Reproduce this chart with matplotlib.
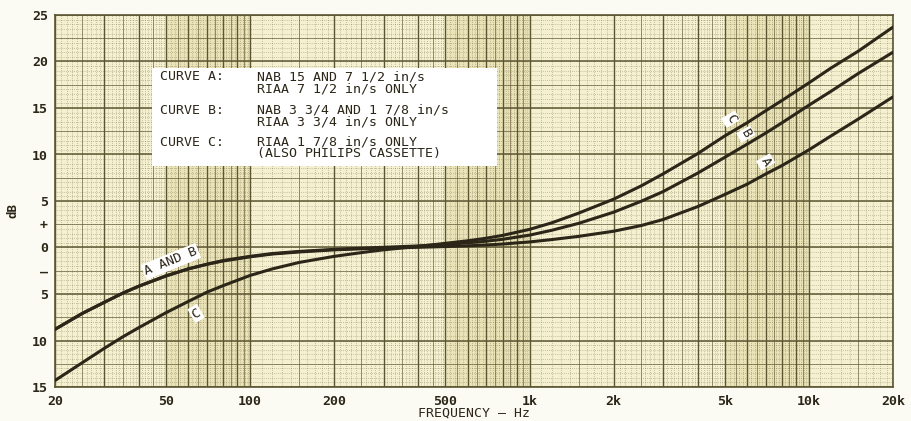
import numpy as np
import matplotlib
matplotlib.use("Agg")
import matplotlib.pyplot as plt
from matplotlib.patches import Rectangle

# values (dB vs Hz)
freq = [20, 25, 30, 35, 40, 50, 60, 70, 80, 100, 120, 150, 200, 250, 300, 400, 500, 600, 700, 800,
        1000, 1200, 1500, 2000, 2500, 3000, 4000, 5000, 6000, 7000, 8000, 10000, 12000, 15000, 20000]
curve_a = [-8.8, -7.1, -5.9, -4.9, -4.15, -3.05, -2.3, -1.8, -1.45, -1.0, -0.7, -0.48, -0.25, -0.14, -0.06, 0.02, 0.1, 0.18, 0.27, 0.37,
           0.6, 0.85, 1.2, 1.75, 2.35, 3.0, 4.4, 5.7, 6.8, 7.9, 8.8, 10.5, 12.0, 13.8, 16.2]
curve_b = [-8.8, -7.1, -5.9, -4.9, -4.15, -3.05, -2.3, -1.8, -1.4, -0.95, -0.65, -0.42, -0.2, -0.08, 0.02, 0.17, 0.33, 0.5, 0.68, 0.88,
           1.33, 1.85, 2.6, 3.8, 4.95, 6.0, 8.0, 9.7, 11.1, 12.3, 13.4, 15.3, 16.8, 18.7, 21.0]
curve_c = [-14.3, -12.4, -10.85, -9.6, -8.6, -7.0, -5.8, -4.8, -4.1, -3.0, -2.3, -1.6, -0.95, -0.55, -0.25, 0.12, 0.45, 0.72, 1.0, 1.3,
           1.95, 2.65, 3.7, 5.2, 6.6, 7.9, 10.1, 12.0, 13.4, 14.7, 15.8, 17.7, 19.3, 21.1, 23.7]

xtick_vals = [20, 50, 100, 200, 500, 1000, 2000, 5000, 10000, 20000]
xtick_labels = ["20", "50", "100", "200", "500", "1k", "2k", "5k", "10k", "20k"]
ytick_vals = [25, 20, 15, 10, 5, 2.5, 0, -2.5, -5, -10, -15]
ytick_labels = ["25", "20", "15", "10", "5", "+", "0", "\u2013", "5", "10", "15"]

legend_lines = [
    ("CURVE A:", "NAB 15 AND 7 1/2 in/s", "RIAA 7 1/2 in/s ONLY"),
    ("CURVE B:", "NAB 3 3/4 AND 1 7/8 in/s", "RIAA 3 3/4 in/s ONLY"),
    ("CURVE C:", "RIAA 1 7/8 in/s ONLY", "(ALSO PHILIPS CASSETTE)"),
]

ink = "#2b2618"
grid_c = "#5c5532"
paper = "#f4f0d0"
band = "#ebe3b8"
mono = "DejaVu Sans Mono"

fig = plt.figure(figsize=(9.12, 4.21), dpi=100, facecolor="#fcfbf3")
ax = fig.add_axes([55 / 912, 1 - 387 / 421, (893 - 55) / 912, (387 - 15) / 421])
ax.set_facecolor(paper)
ax.set_xscale("log")
ax.set_xlim(20, 20000)
ax.set_ylim(-15, 25)

# slightly darker tone where the paper is printed densest
for lo, hi in [(50, 100), (500, 1000), (5000, 10000)]:
    ax.axvspan(lo, hi, color=band, zorder=0, lw=0)

# log graph paper
fine, medium, major = [], [], []
for d in [10, 100, 1000, 10000]:
    for m in range(1, 10):
        for k in range(10):
            f = d * (m + k / 10)
            if f < 20 or f > 20000:
                continue
            if k == 0:
                major.append(f)
            elif k == 5:
                medium.append(f)
            elif m < 5 or k % 2 == 0:
                fine.append(f)
ax.vlines(fine, -15, 25, colors=grid_c, lw=0.5, linestyles=(0, (1, 2)), alpha=0.6, zorder=1)
ax.vlines(medium, -15, 25, colors=grid_c, lw=0.6, alpha=0.75, zorder=1)
ax.vlines(major, -15, 25, colors=grid_c, lw=1.0, zorder=1)

ax.hlines(np.arange(-15, 25.01, 0.5), 20, 20000, colors=grid_c, lw=0.5,
          linestyles=(0, (1, 2)), alpha=0.6, zorder=1)
ax.hlines(np.arange(-12.5, 25, 5), 20, 20000, colors=grid_c, lw=0.6, alpha=0.75, zorder=1)
ax.hlines(np.arange(-15, 25.01, 5), 20, 20000, colors=grid_c, lw=1.1, zorder=1)

for spine in ax.spines.values():
    spine.set_color(grid_c)
    spine.set_linewidth(1.2)

ax.plot(freq, curve_a, color=ink, lw=2.2, zorder=4, solid_capstyle="round", solid_joinstyle="round")
ax.plot(freq, curve_b, color=ink, lw=2.2, zorder=4, solid_capstyle="round", solid_joinstyle="round")
ax.plot(freq, curve_c, color=ink, lw=2.2, zorder=4, solid_capstyle="round", solid_joinstyle="round")

lab = dict(color=ink, fontsize=9.5, family=mono, zorder=6, ha="center", va="center",
           bbox=dict(facecolor="white", edgecolor="none", pad=1.0))
ax.text(52, -1.5, "A AND B", rotation=22, **lab)
ax.text(64, -7.1, "C", rotation=30, **lab)
ax.text(5250, 13.8, "C", rotation=-60, **lab)
ax.text(5950, 12.2, "B", rotation=-60, **lab)
ax.text(7000, 9.2, "A", rotation=-60, **lab)

ax.set_xticks(xtick_vals)
ax.set_xticklabels(xtick_labels, fontweight="bold", fontsize=9.5, color=ink, family=mono)
ax.xaxis.set_minor_locator(matplotlib.ticker.NullLocator())
ax.set_yticks(ytick_vals)
ax.set_yticklabels(ytick_labels, fontweight="bold", fontsize=9.5, color=ink, family=mono)
ax.tick_params(axis="x", length=0, pad=6)
ax.tick_params(axis="y", length=0, pad=5)

fig.text(474 / 912, 1 - 413 / 421, "FREQUENCY \u2013 Hz", fontsize=9.5, family=mono,
         color=ink, ha="center", va="center")
fig.text(13 / 912, 1 - 210 / 421, "dB", fontsize=9, fontweight="bold", family=mono,
         color=ink, ha="center", va="center", rotation=90)

# legend panel
ax.add_patch(Rectangle((152 / 912, 1 - 166 / 421), (497 - 152) / 912, 98 / 421,
                       transform=fig.transFigure, facecolor="white",
                       edgecolor="none", zorder=5, clip_on=False))
rows = [77, 110, 142]
for (head, l1, l2), y in zip(legend_lines, rows):
    fig.text(160 / 912, 1 - y / 421, head, fontsize=9.5, family=mono, color=ink, va="center", zorder=7)
    fig.text(257 / 912, 1 - y / 421, l1, fontsize=9.5, family=mono, color=ink, va="center", zorder=7)
    fig.text(257 / 912, 1 - (y + 12) / 421, l2, fontsize=9.5, family=mono, color=ink, va="center", zorder=7)

fig.savefig("out.png", dpi=100, facecolor=fig.get_facecolor())
